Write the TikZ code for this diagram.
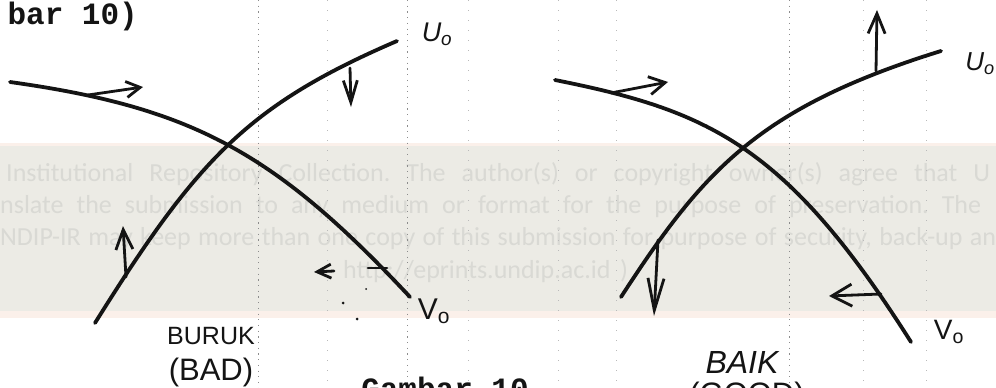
\documentclass[tikz,border=0pt]{standalone}
\usepackage{fontspec}
\setmainfont{Liberation Sans}
\newfontfamily\wmfont{Carlito}
\newfontfamily\typefont{Liberation Mono}
\usetikzlibrary{arrows.meta}
\definecolor{band}{HTML}{ECEBE5}
\definecolor{bandedge}{HTML}{FBF0EA}
\definecolor{wmtext}{HTML}{D9D9D4}
\definecolor{ink}{HTML}{141414}
\definecolor{scan}{HTML}{8C8C8C}
\tikzset{
  curve/.style={ink, line width=3.8pt, line cap=round},
  harrow/.style 2 args={ink, line width=2.8pt, line cap=round,
    -{Straight Barb[length=#1, width=#2]}},
  shaft/.style={ink, line width=2.8pt, line cap=round},
  scanline/.style={scan, line width=0.7pt, dash pattern=on 1.2pt off 4.5pt},
  wm/.style={wmtext, inner sep=0pt, anchor=base west,
    font=\wmfont\fontsize{26}{30}\selectfont},
  hand/.style={ink, inner sep=0pt},
  typed/.style={ink, inner sep=0pt, font=\typefont\bfseries\fontsize{31}{31}\selectfont},
  speck/.style={ink, inner sep=0pt, circle, minimum size=3pt, fill=ink}
}
\frenchspacing
\begin{document}
\begin{tikzpicture}[x=1pt,y=-1pt]
\useasboundingbox (0,0) rectangle (996,388);
\begin{scope}
\clip (0,0) rectangle (996,388);
\fill[white] (0,0) rectangle (996,388);
% watermark band
\fill[bandedge] (0,143) rectangle (996,146);
\fill[band] (0,146) rectangle (996,311);
\fill[bandedge] (0,311) rectangle (996,318);
\node[wm] (wm1) at (6,181) {\makebox[984pt][s]{Institutional Repository Collection. The author(s) or copyright owner(s) agree that U}};
\node[wm] (wm2) at (0,213) {\makebox[981pt][s]{nslate the submission to any medium or format for the purpose of preservation. The}};
\node[wm] (wm3) at (0,245) {\makebox[996pt][s]{NDIP-IR may keep more than one copy of this submission for purpose of security, back-up an}};
\node[wm] (wm4) at (343,278) {\makebox[285pt][s]{http://eprints.undip.ac.id )}};
% scanner dotted lines
\foreach \xx in {258,407,789}{\draw[scanline] (\xx,0) -- (\xx,388);}
\foreach \xx in {327,468,558,616,863,926}{\draw[scanline, scan!60, dash pattern=on 1pt off 9pt] (\xx,0) -- (\xx,388);}
% typed text
\node[typed, anchor=base east] (tt1) at (138,24) {bar 10)};
\node[typed, anchor=base] (tt2) at (445,399) {Gambar 10};
% ---------------- left diagram (BURUK) ----------------
\coordinate (lU0) at (95,323);  \coordinate (lU1) at (397,41);
\coordinate (lV0) at (10,82);   \coordinate (lV1) at (410,297);
\draw[curve] (lU0) .. controls (197,160) and (247,105.5) .. (lU1);
\draw[curve] (lV0) .. controls (193,107.6) and (275,152.7) .. (lV1);
\coordinate (lA) at (88,95);   \coordinate (lAt) at (143,87);
\coordinate (lB) at (126,277); \coordinate (lBt) at (123,226);
\coordinate (lC) at (350,68);  \coordinate (lCt) at (351,107);
\coordinate (lD) at (387,268); \coordinate (lDm) at (368,268);
\coordinate (lDh) at (334,271);\coordinate (lDt) at (314,272);
\draw[harrow={14pt}{16pt}] (lA) -- (lAt);
\draw[harrow={20pt}{17pt}] (lB) -- (lBt);
\draw[harrow={22pt}{14pt}] (lC) -- (lCt);
\draw[shaft] (lD) -- (lDm);
\draw[harrow={14pt}{14pt}] (lDh) -- (lDt);
\node[speck] (s1) at (343,303) {};
\node[speck] (s2) at (357,319) {};
\node[speck, minimum size=2pt] (s3) at (366,289) {};
\node[hand, font=\fontsize{27}{27}\selectfont\itshape] (lU) at (437,34) {U\textsubscript{o}};
\node[hand, font=\fontsize{30}{30}\selectfont] (lV) at (434,311) {V\textsubscript{o}};
\node[hand, font=\fontsize{25}{25}\selectfont] (bad1) at (211,336) {BURUK};
\node[hand, font=\fontsize{31}{31}\selectfont] (bad2) at (211,372) {(BAD)};
% ---------------- right diagram (BAIK) ----------------
\coordinate (rU0) at (621,297); \coordinate (rU1) at (941,51);
\coordinate (rV0) at (555,80);  \coordinate (rV1) at (911,342);
\draw[curve] (rU0) .. controls (702.9,170.9) and (757.8,107.8) .. (rU1);
\draw[curve] (rV0) .. controls (707.3,110.5) and (785.4,143.6) .. (rV1);
\coordinate (rA) at (611,93);  \coordinate (rAt) at (668,82);
\coordinate (rB) at (658,240); \coordinate (rBt) at (654,316);
\coordinate (rC) at (876,71);  \coordinate (rCt) at (877,10);
\coordinate (rD) at (881,294); \coordinate (rDt) at (829,296);
\draw[harrow={16pt}{18pt}] (rA) -- (rAt);
\draw[harrow={32pt}{16pt}] (rB) -- (rBt);
\draw[harrow={20pt}{17pt}] (rC) -- (rCt);
\draw[harrow={20pt}{22pt}] (rD) -- (rDt);
\node[hand, font=\fontsize{26}{26}\selectfont\itshape, anchor=east] (rU) at (995,64) {U\textsubscript{o}};
\node[hand, font=\fontsize{28}{28}\selectfont] (rV) at (949,332) {V\textsubscript{o}};
\node[hand, font=\fontsize{32}{32}\selectfont\itshape] (good1) at (742,362) {BAIK};
\node[hand, font=\fontsize{31}{31}\selectfont] (good2) at (747,396) {(GOOD)};
\end{scope}
\end{tikzpicture}
\end{document}
